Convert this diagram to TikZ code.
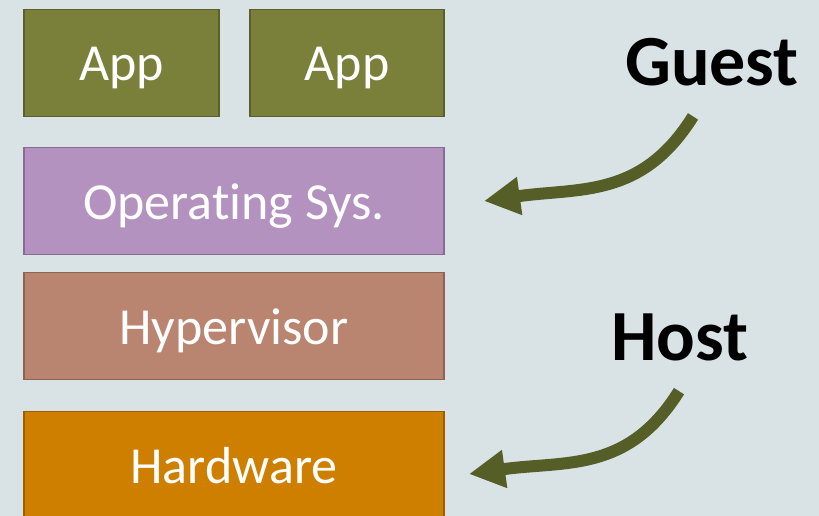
\documentclass[tikz,border=0pt]{standalone}
\usepackage{fontspec}
\setmainfont{Carlito}[Ligatures=NoCommon]
\usetikzlibrary{arrows.meta, positioning}

\definecolor{bgcol}{RGB}{217,227,229}
\definecolor{appfill}{RGB}{122,127,58}
\definecolor{osfill}{RGB}{179,146,192}
\definecolor{hypfill}{RGB}{185,133,112}
\definecolor{hwfill}{RGB}{207,127,0}
\definecolor{arrowcol}{RGB}{86,94,39}

\begin{document}
\begin{tikzpicture}[
	x=1pt, y=1pt,
	% boxes of the stack
	layer/.style={
		rectangle,
		draw=#1!75!black,
		fill=#1,
		line width=1.5pt,
		minimum height=107pt,
		minimum width=420pt,
		inner sep=0pt,
		outer sep=0pt,
		text height=36pt,
		text depth=0pt,
		text=white,
		font=\fontsize{52}{60}\selectfont
	},
	% labels on the right
	tag/.style={
		font=\fontsize{72}{80}\selectfont\bfseries,
		text=black
	},
	% thick curved arrow
	pointer/.style={
		-{Triangle[length=36pt, width=36pt]},
		line width=12pt,
		draw=arrowcol
	}
	]
	
	\fill[bgcol] (0,0) rectangle (819,-516);
	\useasboundingbox (0,0) rectangle (819,-516);
	
	% the stack
	\node[layer=appfill, minimum width=195pt, anchor=north west] (app1) at (24,-9.5) {App};
	\node[layer=appfill, minimum width=194pt, right=31pt of app1] (app2) {App};
	\node[layer=osfill, below=31pt of app1.south west, anchor=north west] (os) {Operating Sys.};
	\node[layer=hypfill, below=18pt of os] (hyp) {Hypervisor};
	\node[layer=hwfill, below=32pt of hyp] (hw) {Hardware};
	
	% labels
	\node[tag] (guest) at (712,-62) {Guest};
	\node[tag] (host) at (680,-337) {Host};
	
	% arrows
	\draw[pointer] ([shift={(-19,-27)}]guest.south) to[out=238, in=8, looseness=1.1] ([xshift=40]os.east);
	\draw[pointer] ([shift={(-1,-27)}]host.south) to[out=238, in=8, looseness=1.1] ([xshift=25]hw.east |- 0,-474);
	
\end{tikzpicture}
\end{document}
